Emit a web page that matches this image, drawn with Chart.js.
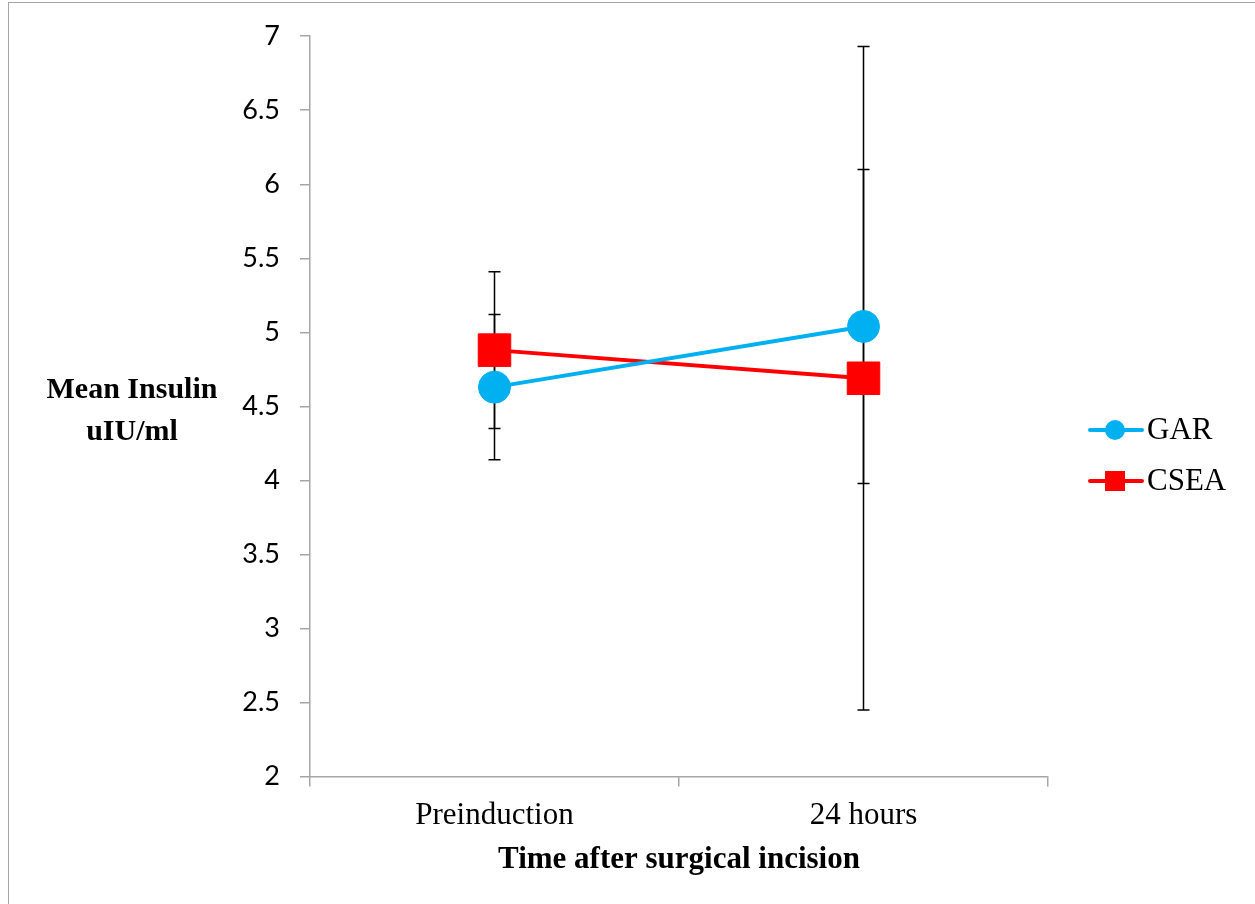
<!DOCTYPE html>
<html>
<head>
<meta charset="utf-8">
<script src="https://cdn.jsdelivr.net/npm/chart.js@4"></script>
<style>
  html, body { margin: 0; padding: 0; background: #fff; overflow: hidden; }
  #wrap { position: relative; width: 1255px; height: 904px; }
  #frame { position: absolute; left: 8px; top: 2px; width: 1300px; height: 950px; border: 1.5px solid #a6a6a6; }
  canvas { position: absolute; left: 0; top: 0; }
</style>
</head>
<body>
<div id="wrap">
  <div id="frame"></div>
  <canvas id="grafica" width="1255" height="904"></canvas>
</div>
<script>
var categorias = ['Preinduction', '24 hours'];
var garMedia = [4.63, 5.04];
var garDe = [0.49, 1.06];
var cseaMedia = [4.88, 4.69];
var cseaDe = [0.53, 2.24];
var yMin = 2, yMax = 7, yPaso = 0.5;

var serif = "'Liberation Serif', 'Times New Roman', serif";

// barras de error, debajo de las lineas
var barrasError = {
  id: 'barrasError',
  beforeDatasetsDraw: function(chart) {
    var ctx = chart.ctx;
    var y = chart.scales.y;
    ctx.save();
    ctx.strokeStyle = '#000';
    ctx.lineWidth = 1.5;
    chart.data.datasets.forEach(function(ds, i) {
      var meta = chart.getDatasetMeta(i);
      meta.data.forEach(function(pt, j) {
        var arriba = y.getPixelForValue(ds.data[j] + ds.de[j]);
        var abajo = y.getPixelForValue(ds.data[j] - ds.de[j]);
        ctx.beginPath();
        ctx.moveTo(pt.x, arriba); ctx.lineTo(pt.x, abajo);
        ctx.moveTo(pt.x - 6, arriba); ctx.lineTo(pt.x + 6, arriba);
        ctx.moveTo(pt.x - 6, abajo); ctx.lineTo(pt.x + 6, abajo);
        ctx.stroke();
      });
    });
    ctx.restore();
  }
};

// titulo del eje y horizontal y leyenda a la derecha
var textos = {
  id: 'textos',
  afterDraw: function(chart) {
    var ctx = chart.ctx;
    ctx.save();
    ctx.fillStyle = '#000';
    ctx.font = 'bold 30px ' + serif;
    ctx.textAlign = 'center';
    ctx.textBaseline = 'middle';
    ctx.fillText('Mean Insulin', 132, 390);
    ctx.fillText('uIU/ml', 132, 432);

    var filas = [430, 481];
    chart.data.datasets.forEach(function(ds, i) {
      var yy = filas[i];
      ctx.strokeStyle = ds.borderColor;
      ctx.lineWidth = 4;
      ctx.lineCap = 'round';
      ctx.beginPath();
      ctx.moveTo(1090, yy); ctx.lineTo(1142, yy);
      ctx.stroke();
      ctx.fillStyle = ds.borderColor;
      if (ds.pointStyle === 'rect') {
        ctx.fillRect(1105, yy - 10, 20, 20);
      } else {
        ctx.beginPath();
        ctx.arc(1115, yy, 10, 0, Math.PI * 2);
        ctx.fill();
      }
      ctx.fillStyle = '#000';
      ctx.font = '31px ' + serif;
      ctx.textAlign = 'left';
      ctx.fillText(ds.label, 1147, yy + 1);
    });
    ctx.restore();
  }
};

var chart = new Chart(document.getElementById('grafica'), {
  type: 'line',
  data: {
    labels: categorias,
    datasets: [{
      label: 'GAR',
      data: garMedia,
      de: garDe,
      borderColor: '#00b0f0',
      backgroundColor: '#00b0f0',
      borderWidth: 4,
      pointStyle: 'circle',
      pointRadius: 16,
      pointBorderWidth: 1,
      pointHoverRadius: 16
    }, {
      label: 'CSEA',
      data: cseaMedia,
      de: cseaDe,
      borderColor: '#ff0000',
      backgroundColor: '#ff0000',
      borderWidth: 4,
      pointStyle: 'rect',
      pointRadius: 23,
      pointBorderWidth: 1,
      pointHoverRadius: 23
    }]
  },
  options: {
    responsive: false,
    animation: false,
    layout: { padding: { left: 200, right: 207, top: 23, bottom: 25 } },
    plugins: { legend: { display: false }, tooltip: { enabled: false } },
    scales: {
      x: {
        offset: true,
        border: { color: '#a6a6a6', width: 1.5 },
        grid: { offset: true, drawOnChartArea: false, drawTicks: true, tickLength: 10, color: '#a6a6a6', lineWidth: 1.5 },
        ticks: { color: '#000', padding: 11, font: { family: serif, size: 31 }, maxRotation: 0 },
        title: { display: true, text: 'Time after surgical incision', color: '#000', padding: { top: -4, bottom: 0 }, font: { family: serif, size: 31, weight: 'bold' } }
      },
      y: {
        min: yMin,
        max: yMax,
        afterFit: function(scale) { scale.width = 110; },
        border: { color: '#a6a6a6', width: 1.5 },
        grid: { drawOnChartArea: false, drawTicks: true, tickLength: 10, color: '#a6a6a6', lineWidth: 1.5 },
        ticks: {
          stepSize: yPaso, color: '#000', padding: 20,
          font: { family: "Lato, 'Open Sans', sans-serif", size: 27 },
          callback: function(v) { return String(v); }
        }
      }
    }
  },
  plugins: [barrasError, textos]
});
</script>
</body>
</html>
